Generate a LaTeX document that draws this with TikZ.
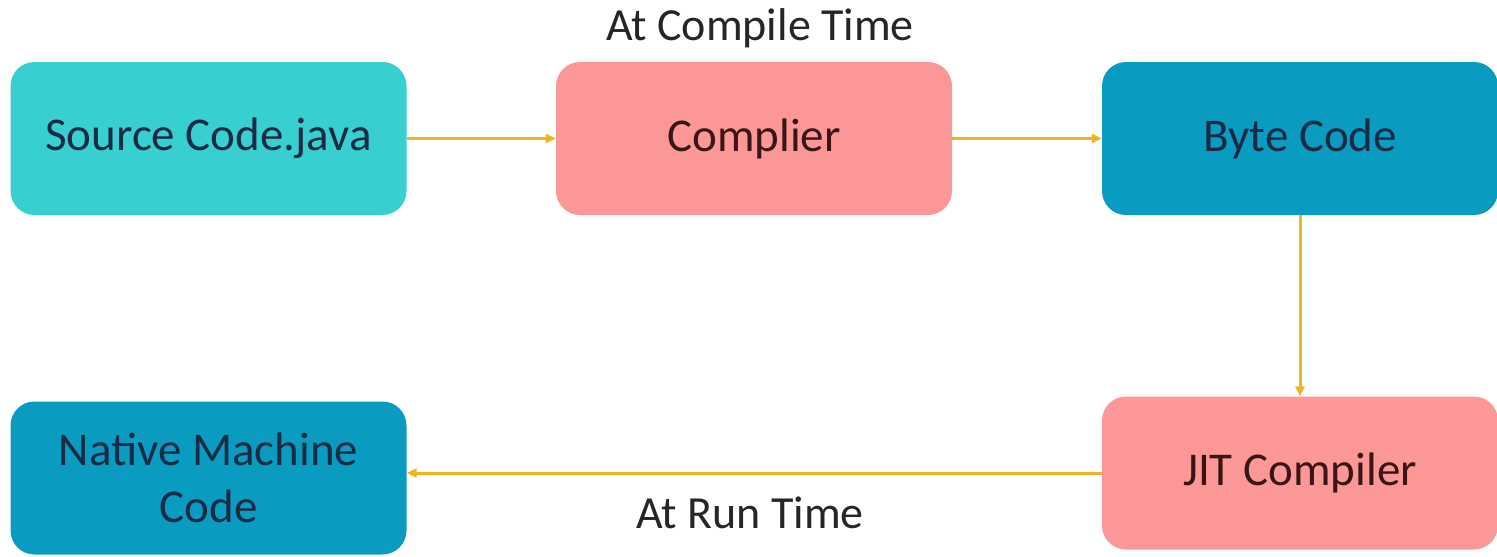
\documentclass[tikz,border=0pt]{standalone}
\usepackage{fontspec}
\setmainfont{Carlito}
\usetikzlibrary{arrows.meta}
\definecolor{cyanbox}{HTML}{38CFD0}
\definecolor{pinkbox}{HTML}{FC9797}
\definecolor{tealbox}{HTML}{0A9CC0}
\definecolor{arrowc}{HTML}{F0B323}
\definecolor{navytext}{HTML}{1B2B45}
\definecolor{redtext}{HTML}{3A1515}
\begin{document}
\begin{tikzpicture}[x=1pt,y=-1pt,
  box/.style={rounded corners=24pt, minimum width=396pt, minimum height=153pt,
    inner sep=0pt, align=center, font=\fontsize{47}{57}\selectfont},
  cbox/.style={box, fill=cyanbox, text=navytext},
  pbox/.style={box, fill=pinkbox, text=redtext},
  tbox/.style={box, fill=tealbox, text=navytext},
  conn/.style={draw=arrowc, line width=3pt, -{Triangle[length=10pt,width=9pt]}},
  lbl/.style={font=\fontsize{46}{55}\selectfont, text=black!85}]
\useasboundingbox (0,0) rectangle (1497,557);
\node[cbox] (src) at (208.5,138.5) {Source Code.java};
\node[pbox] (comp) at (754,138.5) {Complier};
\node[tbox] (byte) at (1300,138.5) {Byte Code};
\node[pbox] (jit) at (1300,473) {JIT Compiler};
\node[tbox] (nat) at (208.5,478) {Native Machine\\Code};
\node[lbl] (ct) at (760,28) {At Compile Time};
\node[lbl] (rt) at (750,513) {At Run Time};
\draw[conn] (src.east) -- (comp.west);
\draw[conn] (comp.east) -- (byte.west);
\draw[conn] (byte.south) -- (jit.north);
\draw[conn] (jit.west) -- (nat.east |- jit.west);
\end{tikzpicture}
\end{document}
